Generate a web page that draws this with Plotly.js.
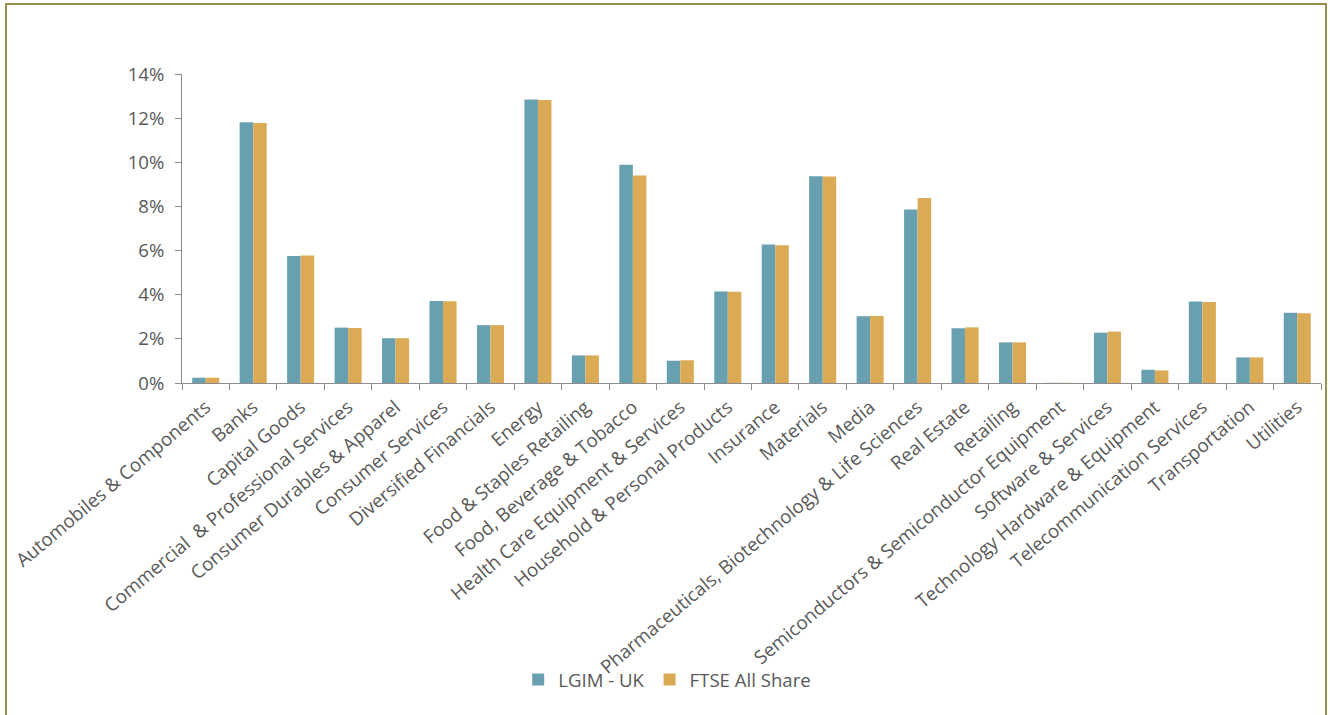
<!DOCTYPE html>
<html>
<head>
<meta charset="utf-8">
<script src="https://cdn.plot.ly/plotly-3.0.1.min.js"></script>
<style>
html,body{margin:0;padding:0;background:#fff;overflow:hidden;}
#chart{width:1330px;height:715px;position:absolute;left:0;top:0;}
#frame{position:absolute;left:5px;top:3px;width:1322px;height:730px;border:2px solid #9C8E4E;box-sizing:border-box;pointer-events:none;}
</style>
</head>
<body>
<div id="chart"></div>
<div id="frame"></div>
<script>
const categories = [
  "Automobiles & Components",
  "Banks",
  "Capital Goods",
  "Commercial \u00A0& Professional Services",
  "Consumer Durables & Apparel",
  "Consumer Services",
  "Diversified Financials",
  "Energy",
  "Food & Staples Retailing",
  "Food, Beverage & Tobacco",
  "Health Care Equipment & Services",
  "Household & Personal Products",
  "Insurance",
  "Materials",
  "Media",
  "Pharmaceuticals, Biotechnology & Life Sciences",
  "Real Estate",
  "Retailing",
  "Semiconductors & Semiconductor Equipment",
  "Software & Services",
  "Technology Hardware & Equipment",
  "Telecommunication Services",
  "Transportation",
  "Utilities"
];
const lgimUK = [0.0024, 0.1181, 0.0575, 0.0251, 0.0203, 0.0372, 0.0262, 0.1285, 0.0125, 0.0989, 0.0101, 0.0414, 0.0627, 0.0937, 0.0302, 0.0786, 0.0248, 0.0184, 0.0001, 0.0228, 0.0060, 0.0369, 0.0116, 0.0318];
const ftseAllShare = [0.0024, 0.1178, 0.0578, 0.0249, 0.0203, 0.0370, 0.0262, 0.1282, 0.0125, 0.0940, 0.0103, 0.0413, 0.0624, 0.0936, 0.0304, 0.0838, 0.0252, 0.0184, 0.0001, 0.0233, 0.0057, 0.0367, 0.0116, 0.0316];
const seriesNames = ["LGIM - UK", "FTSE All Share"];
const yTickVals = [0, 0.02, 0.04, 0.06, 0.08, 0.10, 0.12, 0.14];

const font = {family: "Open Sans, sans-serif", size: 18.6, color: "#595959"};
const xfont = {family: "Open Sans, sans-serif", size: 18.8, color: "#595959"};

const traces = [
  {type: "bar", name: seriesNames[0], x: categories, y: lgimUK,
   marker: {color: "#68A0B2", line: {width: 0}}},
  {type: "bar", name: seriesNames[1], x: categories, y: ftseAllShare,
   marker: {color: "#DAAA55", line: {width: 0}}}
];

const layout = {
  width: 1330, height: 715,
  margin: {l: 182, r: 9, t: 74, b: 332},
  paper_bgcolor: "#ffffff",
  plot_bgcolor: "#ffffff",
  font: font,
  barmode: "group",
  bargap: 0.43,
  bargroupgap: 0,
  showlegend: true,
  legend: {orientation: "h", x: 0.426, xanchor: "center", y: -0.961, yanchor: "middle",
           bgcolor: "rgba(0,0,0,0)",
           font: font, itemwidth: 30, traceorder: "normal"},
  xaxis: {
    type: "category",
    tickangle: -40,
    showline: true, linecolor: "#8c8c8c", linewidth: 1,
    ticks: "outside", tickson: "boundaries", ticklen: 6, tickcolor: "#8c8c8c",
    ticklabelstandoff: 5,
    showgrid: false, zeroline: false,
    tickfont: xfont, automargin: false
  },
  yaxis: {
    range: [0, 0.14],
    tickvals: yTickVals,
    tickformat: ".0%",
    showline: true, linecolor: "#8c8c8c", linewidth: 1,
    ticks: "outside", ticklen: 6, tickcolor: "#8c8c8c",
    ticklabelstandoff: 7,
    showgrid: false, zeroline: false,
    tickfont: font, automargin: false
  }
};

Plotly.newPlot("chart", traces, layout, {displayModeBar: false, staticPlot: true});
</script>
</body>
</html>
